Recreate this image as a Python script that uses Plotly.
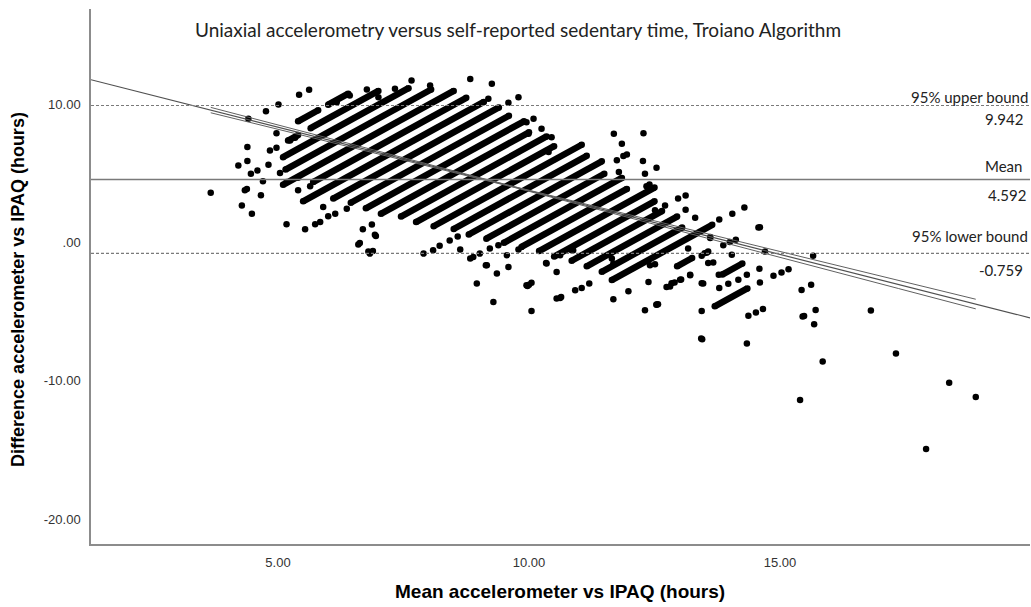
import numpy as np
import plotly.graph_objects as go

# ---------------- data (hours) ----------------
# dense runs of overlapping points: one IPAQ value, accelerometer from..to
stripe_ipaq = [1.0, 1.0, 1.5, 1.5, 2.0, 2.5, 3.0, 3.5, 4.0, 4.5, 5.0, 5.5, 6.0, 6.5,
               7.0, 7.5, 8.0, 8.5, 9.0, 9.5, 10.0, 10.5, 11.0, 11.5, 12.0, 12.5,
               13.0, 13.8, 15.0, 16.0]
stripe_acc_from = [9.8, 11.0, 8.9, 9.8, 8.2, 7.8, 7.2, 7.9, 7.0, 7.7, 7.9, 8.0, 8.1, 8.4,
                   8.5, 8.7, 9.0, 9.1, 9.3, 9.5, 9.7, 9.9, 10.0, 10.2, 10.3, 10.4,
                   10.3, 12.1, 12.7, 11.4]
stripe_acc_to = [10.6, 11.8, 9.3, 12.5, 13.2, 13.6, 14.0, 14.0, 14.2, 14.3, 14.2, 14.3, 14.0, 14.2,
                 14.0, 14.6, 14.3, 14.4, 14.0, 14.2, 13.9, 14.5, 14.0, 13.8, 13.9, 13.6,
                 14.3, 12.7, 13.5, 12.7]

# single points: mean and difference
dot_mean = [3.66, 4.41, 4.76, 5.01, 5.42, 5.62, 4.97, 4.39, 4.21, 4.39, 4.81, 4.46, 4.59, 4.70, 4.34, 4.38, 4.66, 4.28, 4.48, 5.17, 5.54, 4.84, 4.97, 5.04, 5.24, 5.34,
            5.74, 5.84, 6.00, 6.14, 6.37, 5.90, 6.87, 6.69, 6.95, 6.60, 6.83, 6.89, 5.40, 5.64, 5.40, 5.17,
            6.77, 7.00, 7.33, 7.66, 8.03, 8.83, 9.26, 9.19, 9.59, 9.79, 9.95, 10.09, 10.25, 9.99, 10.45, 10.39, 6.43, 6.17,
            6.93, 6.63, 6.80,
            7.90, 8.09, 8.22, 8.42, 8.58, 8.63, 8.83, 8.89, 9.02, 9.16, 8.96, 9.36, 9.59, 9.29, 9.22, 9.39, 9.79, 9.56, 9.95, 10.05, 10.05, 10.34, 10.55, 10.62, 10.64, 10.92, 10.62, 10.85,
            9.97, 10.00, 10.55, 11.05, 11.20, 11.68, 11.98, 12.31, 12.54, 13.44, 13.43, 13.45, 14.34, 9.14, 11.68,
            11.69, 12.28, 11.85, 11.95, 11.88, 11.75, 12.27, 12.31, 12.54, 11.79, 12.34, 12.40, 12.97, 13.12, 12.51, 12.71, 13.12, 13.31, 13.61, 13.17, 13.44, 13.54, 12.41, 12.51, 12.84, 12.90, 13.03, 12.74, 12.38, 10.35, 10.88, 11.65, 13.21,
            14.29, 14.05, 13.79, 14.57, 14.60, 14.12, 14.00, 13.87, 13.61, 13.57, 13.50, 14.04, 14.70, 15.66, 14.59, 13.78, 13.57, 13.67,
            15.43, 15.62, 15.45, 15.48, 15.71, 15.68, 15.85, 15.40, 16.81, 17.31, 18.37, 18.90, 17.91, 14.37, 14.52, 14.66, 14.60, 14.87, 15.03, 15.17, 14.34, 14.17, 13.97, 13.79, 13.44, 13.47, 12.81, 13.01, 13.21, 12.54, 12.57]
dot_diff = [3.63, 8.98, 9.53, 10.01, 10.72, 11.08, 7.94, 6.93, 5.60, 5.92, 5.65, 5.00, 5.24, 4.45, 3.80, 3.90, 3.44, 2.71, 2.11, 1.34, 0.98, 6.69, 6.88, 5.05, 7.41, 7.60,
            1.34, 1.51, 1.92, 2.11, 2.47, 2.59, 1.32, 0.98, 0.49, -0.13, -0.78, -0.59, 4.71, 4.09, 3.80, 4.40,
            11.10, 10.54, 11.15, 11.75, 11.39, 11.87, 11.51, 10.43, 10.14, 10.54, 8.73, 8.98, 8.26, 7.90, 7.65, 6.57, 10.67, 10.18,
            0.58, -0.02, -0.63,
            -0.78, -0.54, -0.22, 0.17, 0.46, -0.49, -1.14, -1.02, -0.78, -1.63, -2.95, -2.23, -1.75, -4.28, -0.42, -0.18, -0.49, -0.90, -3.07, -2.90, -4.93, -1.46, -2.11, -3.99, -3.92, -3.43, -0.90, -0.54,
            -3.13, -3.03, -4.03, -3.27, -2.95, -4.09, -3.51, -4.88, -4.47, -4.93, -6.93, -6.98, -7.29, -1.63, -1.50,
            7.90, 7.94, 7.17, 6.40, 6.28, 5.97, 5.92, 5.00, 5.44, 5.12, 4.09, 4.23, 3.20, 3.43, 2.35, 2.71, 2.40, 1.82, 0.35, -0.42, -0.93, -0.72, -1.63, -1.55, -2.92, -2.87, -2.66, -3.20, -2.83, -1.50, -0.54, -1.14, -2.35,
            2.55, 2.11, 1.68, 1.10, 1.13, 0.23, 0.06, -0.18, 0.42, -0.63, -0.75, -0.87, -0.63, -0.94, -1.88, -2.32, -1.47, -1.43,
            -3.41, -3.04, -5.34, -5.30, -4.86, -5.89, -8.60, -11.38, -4.91, -8.02, -10.13, -11.16, -14.93, -5.29, -5.05, -4.80, -2.88, -2.39, -2.15, -1.91, -2.32, -2.68, -2.97, -3.28, -2.92, -2.95, -3.17, -2.68, -2.32, -4.49, -4.45]

# agreement statistics
mean_diff = 4.592
upper_loa = 9.942
lower_loa = -0.759

# fitted regression of difference on mean, with confidence band
fit_intercept = 12.985
fit_slope = -0.9217
fit_center = 9.1
ci_base = 0.02
ci_spread = 0.0355
data_min, data_max = 3.66, 18.9

x_range = [1.275, 19.98]
y_range = [-21.81, 16.93]

# ---------------- figure ----------------
fig = go.Figure()

# dense runs (as thick lines with round end points)
sx, sy, ex, ey = [], [], [], []
for ip, a0, a1 in zip(stripe_ipaq, stripe_acc_from, stripe_acc_to):
    m0, d0 = (a0 + ip) / 2, a0 - ip
    m1, d1 = (a1 + ip) / 2, a1 - ip
    sx += [m0, m1, None]
    sy += [d0, d1, None]
    ex += [m0, m1]
    ey += [d0, d1]
fig.add_trace(go.Scatter(x=sx, y=sy, mode='lines', line=dict(color='black', width=6.5),
                         hoverinfo='skip'))
fig.add_trace(go.Scatter(x=ex, y=ey, mode='markers', marker=dict(color='black', size=6.5),
                         hoverinfo='skip'))
fig.add_trace(go.Scatter(x=dot_mean, y=dot_diff, mode='markers',
                         marker=dict(color='black', size=6.5)))

# regression line over full axis
fx = np.array(x_range)
fig.add_trace(go.Scatter(x=fx, y=fit_intercept + fit_slope * fx, mode='lines',
                         line=dict(color='#505050', width=1.2), hoverinfo='skip'))
# confidence band over the data range
cx = np.linspace(data_min, data_max, 80)
cy = fit_intercept + fit_slope * cx
half = np.sqrt(ci_base ** 2 + (ci_spread * (cx - fit_center)) ** 2)
for sgn in (1, -1):
    fig.add_trace(go.Scatter(x=cx, y=cy + sgn * half, mode='lines',
                             line=dict(color='#606060', width=1), hoverinfo='skip'))

# reference lines
for val, dash in ((upper_loa, '3px,2px'), (mean_diff, 'solid'), (lower_loa, '3px,2px')):
    fig.add_shape(type='line', xref='paper', x0=0, x1=1, yref='y', y0=val, y1=val,
                  line=dict(color='#7a7a7a', width=1.5 if dash == 'solid' else 1.2, dash=dash))

lab_font = dict(family='Lato, Open Sans, sans-serif', size=15, color='#222222')
labels = [("95% upper bound", 0.8361, 0), (f"{upper_loa:.3f}", 0.7938, -5),
          ("Mean", 0.7065, -6), (f"{mean_diff:.3f}", 0.6523, -2),
          ("95% lower bound", 0.5763, 0), (f"{lower_loa:.3f}", 0.5121, -5)]
for txt, yp, xs in labels:
    fig.add_annotation(text=txt, xref='paper', yref='paper', x=1, y=yp, xanchor='right',
                       yanchor='middle', xshift=xs, showarrow=False, font=lab_font)

fig.add_annotation(text="Uniaxial accelerometry versus self-reported sedentary time, Troiano Algorithm",
                   xref='paper', yref='paper', x=0.4547, y=0.9626, xanchor='center', yanchor='middle',
                   showarrow=False, font=dict(family='Lato, Open Sans, sans-serif', size=19, color='#222222'))

fig.add_annotation(text="<b>Mean accelerometer vs IPAQ (hours)</b>", xref='paper', yref='paper',
                   x=0.4995, y=-0.0897, xanchor='center', yanchor='middle', showarrow=False,
                   font=dict(family='Liberation Sans, Arial, sans-serif', size=19, color='black'))
fig.add_annotation(text="<b>Difference accelerometer vs IPAQ (hours)</b>", xref='paper', yref='paper',
                   x=-0.0777, y=0.475, xanchor='center', yanchor='middle', textangle=-90,
                   showarrow=False,
                   font=dict(family='Liberation Sans, Arial, sans-serif', size=18, color='black'))

tick_font = dict(family='Liberation Sans, Arial, sans-serif', size=13, color='#333333')
fig.update_layout(
    width=1031, height=607,
    margin=dict(l=91, r=1, t=9, b=63),
    paper_bgcolor='white', plot_bgcolor='white',
    showlegend=False,
    xaxis=dict(range=x_range, showgrid=False, zeroline=False, showline=True,
               linecolor='#8c8c8c', linewidth=1.5, ticks='',
               tickvals=[5, 10, 15], ticktext=['5.00', '10.00', '15.00'],
               tickfont=tick_font, ticklabelstandoff=6),
    yaxis=dict(range=y_range, showgrid=False, zeroline=False, showline=True,
               linecolor='#8c8c8c', linewidth=1.5, ticks='',
               tickvals=[-20, -10, 0, 10], ticktext=['-20.00', '-10.00', '.00', '10.00'],
               tickfont=tick_font, ticklabelstandoff=6),
)

fig.write_html("out.html")
